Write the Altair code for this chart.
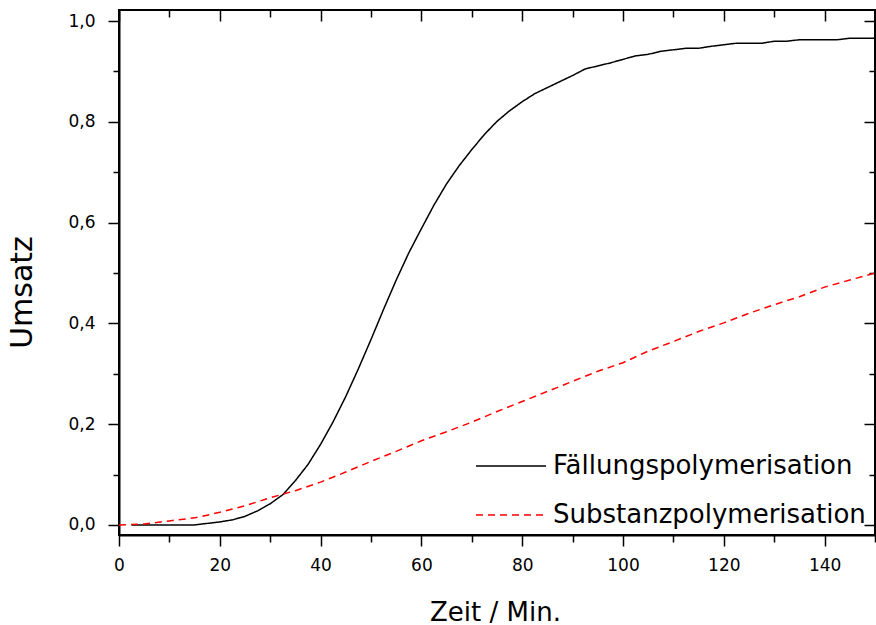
import altair as alt
import pandas as pd

series_names = ["Fällungspolymerisation", "Substanzpolymerisation"]

t_faell = [2.5, 5, 10, 15, 20, 22.5, 25, 27.5, 30, 32.5, 35, 37.5, 40, 42.5, 45, 47.5,
           50, 52.5, 55, 57.5, 60, 62.5, 65, 67.5, 70, 72.5, 75, 77.5, 80, 82.5, 85, 87.5,
           90, 92.5, 95, 97.5, 100, 102.5, 105, 107.5, 110, 112.5, 115, 117.5, 120, 122.5,
           125, 127.5, 130, 132.5, 135, 137.5, 140, 142.5, 145, 147.5, 150]
v_faell = [0.0, 0.0, 0.0, 0.0, 0.006, 0.010, 0.017, 0.028, 0.042, 0.060, 0.088, 0.120,
           0.160, 0.205, 0.255, 0.310, 0.368, 0.428, 0.486, 0.540, 0.588, 0.635, 0.677,
           0.713, 0.745, 0.775, 0.801, 0.822, 0.840, 0.856, 0.868, 0.880, 0.892, 0.905,
           0.911, 0.917, 0.924, 0.931, 0.934, 0.940, 0.943, 0.946, 0.946, 0.950, 0.953,
           0.956, 0.956, 0.956, 0.960, 0.960, 0.963, 0.963, 0.963, 0.963, 0.966, 0.966, 0.966]

t_subst = [0, 5, 10, 15, 20, 25, 30, 35, 40, 45, 50, 55, 60, 65, 70, 75, 80, 85, 90, 95,
           100, 105, 110, 115, 120, 125, 130, 135, 140, 145, 150]
v_subst = [0.0, 0.002, 0.008, 0.014, 0.025, 0.038, 0.054, 0.068, 0.085, 0.105, 0.126,
           0.146, 0.167, 0.185, 0.204, 0.225, 0.245, 0.265, 0.285, 0.305, 0.322, 0.345,
           0.364, 0.384, 0.401, 0.420, 0.437, 0.453, 0.472, 0.486, 0.500]

x_major = [0, 20, 40, 60, 80, 100, 120, 140]
x_minor = [10, 30, 50, 70, 90, 110, 130, 150]
y_major = [0.0, 0.2, 0.4, 0.6, 0.8, 1.0]
y_minor = [0.1, 0.3, 0.5, 0.7, 0.9]

df = pd.concat([
    pd.DataFrame({"t": t_faell, "v": v_faell, "series": series_names[0]}),
    pd.DataFrame({"t": t_subst, "v": v_subst, "series": series_names[1]}),
], ignore_index=True)

FONT = "DejaVu Sans"
xs = alt.Scale(domain=[0, 150], nice=False, zero=False)
ys = alt.Scale(domain=[-0.02, 1.022], nice=False, zero=False)


def axis(**kw):
    base = dict(grid=False, tickColor="black", tickWidth=1.5, domainColor="black",
                domainWidth=2, labelColor="black", labelFont=FONT, labelFontSize=17,
                titleColor="black", titleFont=FONT, titleFontWeight="normal",
                labelFlush=False, labelOverlap=False)
    base.update(kw)
    return alt.Axis(**base)


def hidden(**kw):
    return axis(labels=False, domain=False, title=None, **kw)


leg = alt.Legend(title=None, orient="none", legendX=356, legendY=420,
                 symbolType="stroke", symbolSize=4900, symbolStrokeWidth=1.5,
                 labelFont=FONT, labelFontSize=26, labelColor="black", labelOffset=6,
                 labelLimit=500, rowPadding=-24, padding=0)

lines = alt.Chart(df).mark_line(strokeWidth=1.5).encode(
    x=alt.X("t:Q", scale=xs, axis=axis(
        orient="bottom", values=x_major, tickSize=11, labelPadding=11,
        title="Zeit / Min.", titleFontSize=26, titleX=376, titleY=85,
        titleAlign="center", titleBaseline="alphabetic")),
    y=alt.Y("v:Q", scale=ys, axis=axis(
        orient="left", values=y_major, tickSize=11, labelPadding=13,
        labelExpr="replace(format(datum.value, '.1f'), '.', ',')",
        title="Umsatz", titleFontSize=30, titleX=-97, titleY=282, titleAngle=270,
        titleAlign="center", titleBaseline="middle")),
    color=alt.Color("series:N", scale=alt.Scale(domain=series_names, range=["#000000", "#ff0000"]),
                    legend=leg),
    strokeDash=alt.StrokeDash("series:N", scale=alt.Scale(domain=series_names, range=[[1, 0], [7, 5]]),
                              legend=leg),
)

minor_bl = alt.Chart(df).mark_point(opacity=0).encode(
    x=alt.X("t:Q", scale=xs, axis=hidden(orient="bottom", values=x_minor, tickSize=7)),
    y=alt.Y("v:Q", scale=ys, axis=hidden(orient="left", values=y_minor, tickSize=6)),
)

major_tr = alt.Chart(df).mark_point(opacity=0).encode(
    x=alt.X("t:Q", scale=xs, axis=hidden(orient="top", values=x_major, tickSize=11, offset=-11)),
    y=alt.Y("v:Q", scale=ys, axis=hidden(orient="right", values=y_major, tickSize=11, offset=-11)),
)

minor_tr = alt.Chart(df).mark_point(opacity=0).encode(
    x=alt.X("t:Q", scale=xs, axis=hidden(orient="top", values=x_minor, tickSize=7, offset=-7)),
    y=alt.Y("v:Q", scale=ys, axis=hidden(orient="right", values=y_minor, tickSize=6, offset=-6)),
)

chart = alt.layer(lines, minor_bl, major_tr, minor_tr).resolve_axis(
    x="independent", y="independent"
).properties(
    width=756, height=525,
    autosize=alt.AutoSizeParams(type="none"),
    padding={"left": 119, "top": 10, "right": 1, "bottom": 90},
    background="white",
).configure_view(stroke="black", strokeWidth=2)

chart.save("out.html", embed_options={"renderer": "svg", "actions": False})
